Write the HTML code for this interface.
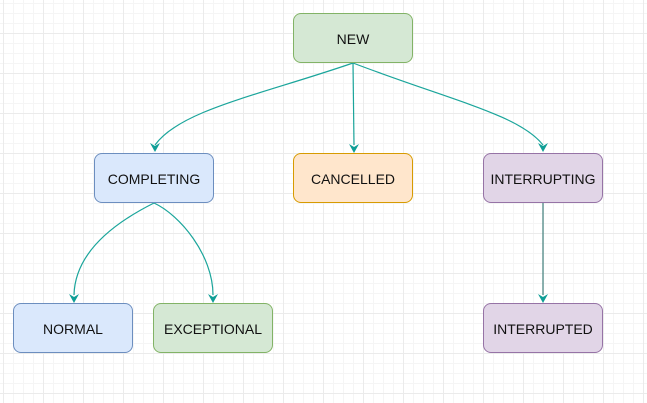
<!DOCTYPE html>
<html><head><style>
html,body{margin:0;padding:0}
body{width:647px;height:403px;overflow:hidden;background:#fff;
background-image:
linear-gradient(#ebebeb 1px,transparent 1px),linear-gradient(90deg,#ebebeb 1px,transparent 1px),
linear-gradient(#f5f5f5 1px,transparent 1px),linear-gradient(90deg,#f5f5f5 1px,transparent 1px);
background-size:40px 40px,40px 40px,10px 10px,10px 10px;
background-position:3px 33px,3px 33px,3px 3px,3px 3px;position:relative;font-family:"Liberation Sans",sans-serif}
.b{position:absolute;width:118px;height:48px;border:1px solid;border-radius:8px;display:flex;align-items:center;justify-content:center;font-size:14px;color:#111;padding-top:2px;box-sizing:content-box}
.g{background:#d5e8d4;border-color:#82b366}.bl{background:#dae8fc;border-color:#6c8ebf}
.o{background:#ffe6cc;border-color:#d79b00}.p{background:#e1d5e7;border-color:#9673a6}
svg{position:absolute;left:0;top:0}
</style></head><body>
<svg width="647" height="403">
<g fill="none" stroke="#1aa59b" stroke-width="1.2">
<path d="M353,63 C260,95 180,110 155,145"/>
<path d="M353,63 L354,145"/>
<path d="M353,63 C450,100 520,115 543,145"/>
<path d="M154,203 C110,225 75,255 74,295"/>
<path d="M154,203 C180,215 213,255 213,295"/>
<path d="M543,203 L543,295" stroke="#3f7f7a"/>
</g>
<g fill="#0e9e96">
<path d="M150,143 L155,152 L160,143 L155,146z"/>
<path d="M349,144 L354,153 L359,144 L354,147z"/>
<path d="M538,143 L543,152 L548,143 L543,146z"/>
<path d="M69,294 L74,303 L79,294 L74,297z"/>
<path d="M208,294 L213,303 L218,294 L213,297z"/>
<path d="M538,294 L543,303 L548,294 L543,297z"/>
</g>
</svg>
<div class="b g" style="left:293px;top:13px;height:46px">NEW</div>
<div class="b bl" style="left:94px;top:153px;height:46px">COMPLETING</div>
<div class="b o" style="left:293px;top:153px;height:46px">CANCELLED</div>
<div class="b p" style="left:483px;top:153px;height:46px">INTERRUPTING</div>
<div class="b bl" style="left:13px;top:303px;height:46px">NORMAL</div>
<div class="b g" style="left:153px;top:303px;height:46px">EXCEPTIONAL</div>
<div class="b p" style="left:483px;top:303px;height:46px">INTERRUPTED</div>
</body></html>
